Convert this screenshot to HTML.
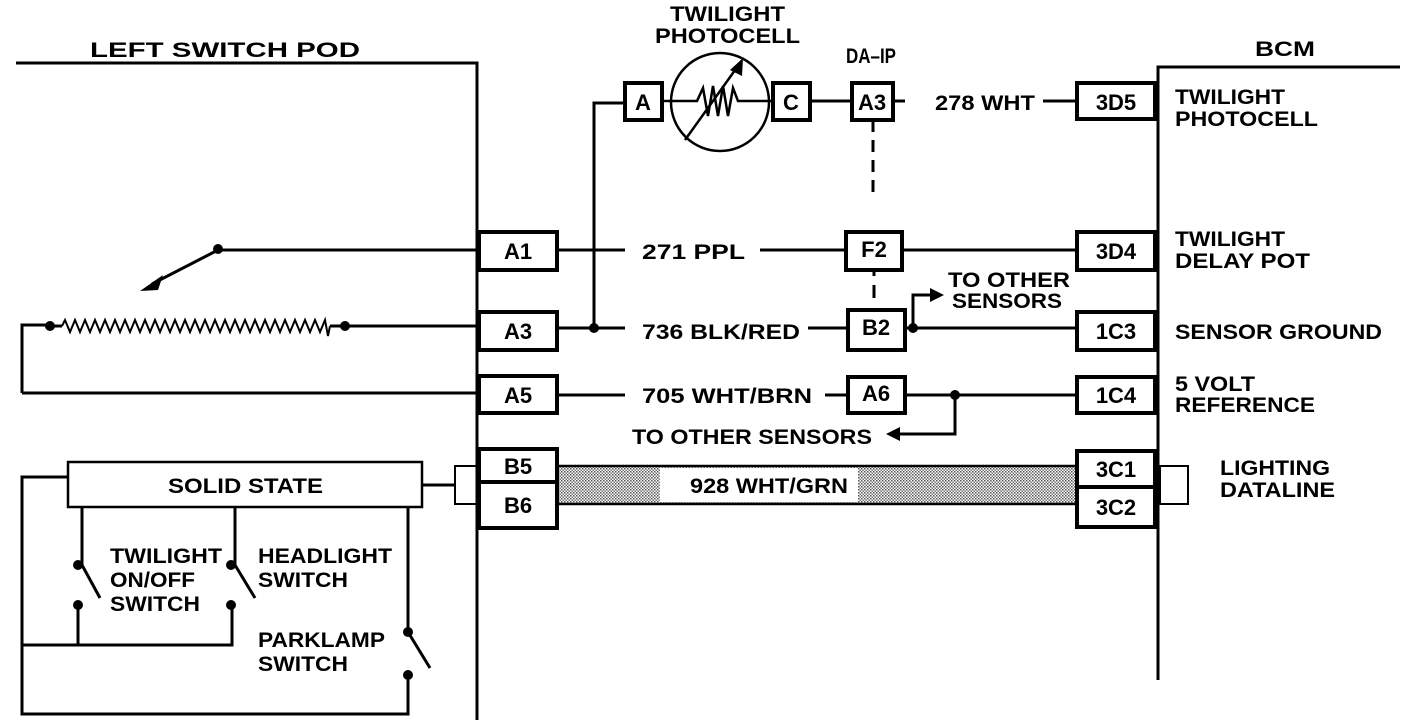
<!DOCTYPE html>
<html><head><meta charset="utf-8"><style>
html,body{margin:0;padding:0;background:#fff;}
svg{display:block;}
text{font-family:"Liberation Sans",sans-serif;font-weight:bold;fill:#000;}
</style></head><body>
<svg width="1408" height="728" viewBox="0 0 1408 728" xmlns="http://www.w3.org/2000/svg">
<defs>
<pattern id="dots" width="3" height="3" patternUnits="userSpaceOnUse">
<rect width="3" height="3" fill="#fff"/><rect width="1.5" height="1.5" fill="#555"/><rect x="1.5" y="1.5" width="1.5" height="1.5" fill="#777"/>
</pattern>
</defs>
<g stroke="#000" fill="none" stroke-width="3">
<polyline points="16,63 477,63 477,720"/>
<polyline points="1400,67 1158,67 1158,680"/>
<circle cx="720" cy="102" r="49" stroke-width="2.5"/>
<polyline points="662,101 697,101 703,88 708,116 713,86 718,116 723,86 728,116 733,88 738,101 773,101" stroke-width="2.5"/>
<line x1="685" y1="140" x2="738" y2="66" stroke-width="2.5"/>
<line x1="810" y1="101" x2="852" y2="101"/>
<line x1="893" y1="101" x2="905" y2="101"/>
<line x1="1043" y1="101" x2="1077" y2="101"/>
<line x1="873" y1="120" x2="873" y2="192" stroke-dasharray="12,8"/>
<polyline points="625,103 594,103 594,328"/>
<line x1="218" y1="250" x2="479" y2="250"/>
<line x1="218" y1="250" x2="152" y2="284"/>
<line x1="557" y1="250" x2="625" y2="250"/>
<line x1="760" y1="250" x2="846" y2="250"/>
<line x1="902" y1="250" x2="1077" y2="250"/>
<line x1="874" y1="270" x2="874" y2="276"/>
<line x1="874" y1="285" x2="874" y2="298"/>
<polyline points="22,393 22,325 50,325"/>
<line x1="50" y1="326" x2="62" y2="326"/>
<line x1="330" y1="326" x2="479" y2="326"/>
<line x1="557" y1="328" x2="625" y2="328"/>
<line x1="808" y1="328" x2="848" y2="328"/>
<line x1="905" y1="328" x2="1077" y2="328"/>
<polyline points="913,328 913,295 932,295"/>
<line x1="22" y1="393" x2="479" y2="393"/>
<line x1="557" y1="395" x2="625" y2="395"/>
<line x1="825" y1="395" x2="848" y2="395"/>
<line x1="905" y1="395" x2="1077" y2="395"/>
<polyline points="955,395 955,434 898,434"/>
<rect x="455" y="466" width="22" height="38" stroke-width="2"/>
<rect x="1160" y="466" width="28" height="38" stroke-width="2"/>
<rect x="68" y="462" width="354" height="45" stroke-width="2.5"/>
<line x1="422" y1="485" x2="455" y2="485"/>
<polyline points="68,477 22,477 22,714 408,714 408,675"/>
<line x1="82" y1="507" x2="82" y2="565"/>
<line x1="82" y1="565" x2="100" y2="598"/>
<polyline points="78,605 78,645 232,645 232,605"/>
<line x1="22" y1="645" x2="78" y2="645"/>
<line x1="235" y1="507" x2="235" y2="565"/>
<line x1="235" y1="565" x2="255" y2="598"/>
<line x1="408" y1="507" x2="408" y2="632"/>
<line x1="408" y1="632" x2="430" y2="668"/>
</g>
<rect x="557" y="466" width="520" height="38" fill="url(#dots)" stroke="#000" stroke-width="2.5"/>
<rect x="660" y="468" width="198" height="34" fill="#fff"/>
<polygon points="140,291 163,275 158,290" fill="#000"/>
<polygon points="930,288 944,295 930,302" fill="#000"/>
<polygon points="886,434 900,427 900,441" fill="#000"/>
<polygon points="743,58 742,76 730,70" fill="#000"/>
<g fill="#000">
<circle cx="218" cy="249" r="5"/>
<circle cx="50" cy="326" r="5"/><circle cx="345" cy="326" r="5"/>
<circle cx="594" cy="328" r="5"/><circle cx="913" cy="328" r="5"/>
<circle cx="955" cy="395" r="5"/>
<circle cx="78" cy="565" r="5"/><circle cx="78" cy="605" r="5"/>
<circle cx="231" cy="565" r="5"/><circle cx="231" cy="605" r="5"/>
<circle cx="408" cy="632" r="5"/><circle cx="408" cy="675" r="5"/>
</g>
<g stroke="#000" stroke-width="4" fill="#fff">
<rect x="625" y="83" width="37" height="37"/>
<rect x="773" y="83" width="37" height="37"/>
<rect x="852" y="83" width="41" height="37"/>
<rect x="1077" y="83" width="78" height="36"/>
<rect x="479" y="232" width="78" height="38"/>
<rect x="846" y="232" width="56" height="38"/>
<rect x="1077" y="232" width="78" height="38"/>
<rect x="479" y="312" width="78" height="38"/>
<rect x="848" y="310" width="57" height="40"/>
<rect x="1077" y="312" width="78" height="38"/>
<rect x="479" y="376" width="78" height="37"/>
<rect x="848" y="377" width="57" height="36"/>
<rect x="1077" y="377" width="78" height="36"/>
<rect x="479" y="449" width="78" height="33"/>
<rect x="479" y="482" width="78" height="46"/>
<rect x="1077" y="451" width="78" height="36"/>
<rect x="1077" y="487" width="78" height="40"/>
</g>
<g font-size="22" text-anchor="middle">
<text x="643" y="110">A</text><text x="791" y="110">C</text>
<text x="872" y="110">A3</text><text x="1116" y="110">3D5</text>
<text x="518" y="259">A1</text><text x="874" y="257">F2</text><text x="1116" y="259">3D4</text>
<text x="518" y="339">A3</text><text x="876" y="335">B2</text><text x="1116" y="339">1C3</text>
<text x="518" y="403">A5</text><text x="876" y="401">A6</text><text x="1116" y="403">1C4</text>
<text x="518" y="474">B5</text><text x="518" y="513">B6</text>
<text x="1116" y="477">3C1</text><text x="1116" y="515">3C2</text>
</g>
<g font-size="21" lengthAdjust="spacingAndGlyphs">
<text x="90" y="57" textLength="270" lengthAdjust="spacingAndGlyphs">LEFT SWITCH POD</text>
<text x="1255" y="56" textLength="60" lengthAdjust="spacingAndGlyphs">BCM</text>
<text x="670" y="21" textLength="115" lengthAdjust="spacingAndGlyphs">TWILIGHT</text>
<text x="655" y="43" textLength="145" lengthAdjust="spacingAndGlyphs">PHOTOCELL</text>
<text x="846" y="63" font-weight="normal" textLength="50" lengthAdjust="spacingAndGlyphs">DA–IP</text>
<text x="935" y="110" textLength="100" lengthAdjust="spacingAndGlyphs">278 WHT</text>
<text x="642" y="259" textLength="103" lengthAdjust="spacingAndGlyphs">271 PPL</text>
<text x="642" y="339" textLength="158" lengthAdjust="spacingAndGlyphs">736 BLK/RED</text>
<text x="642" y="403" textLength="170" lengthAdjust="spacingAndGlyphs">705 WHT/BRN</text>
<text x="632" y="444" textLength="240" lengthAdjust="spacingAndGlyphs">TO OTHER SENSORS</text>
<text x="948" y="287" textLength="122" lengthAdjust="spacingAndGlyphs">TO OTHER</text>
<text x="952" y="308" textLength="110" lengthAdjust="spacingAndGlyphs">SENSORS</text>
<text x="690" y="493" textLength="158" lengthAdjust="spacingAndGlyphs">928 WHT/GRN</text>
<text x="1175" y="104" textLength="110" lengthAdjust="spacingAndGlyphs">TWILIGHT</text>
<text x="1175" y="126" textLength="143" lengthAdjust="spacingAndGlyphs">PHOTOCELL</text>
<text x="1175" y="246" textLength="110" lengthAdjust="spacingAndGlyphs">TWILIGHT</text>
<text x="1175" y="268" textLength="135" lengthAdjust="spacingAndGlyphs">DELAY POT</text>
<text x="1175" y="339" textLength="207" lengthAdjust="spacingAndGlyphs">SENSOR GROUND</text>
<text x="1175" y="391" textLength="80" lengthAdjust="spacingAndGlyphs">5 VOLT</text>
<text x="1175" y="412" textLength="140" lengthAdjust="spacingAndGlyphs">REFERENCE</text>
<text x="1220" y="475" textLength="110" lengthAdjust="spacingAndGlyphs">LIGHTING</text>
<text x="1220" y="497" textLength="115" lengthAdjust="spacingAndGlyphs">DATALINE</text>
<text x="168" y="493" textLength="155" lengthAdjust="spacingAndGlyphs">SOLID STATE</text>
<text x="110" y="563" textLength="112" lengthAdjust="spacingAndGlyphs">TWILIGHT</text>
<text x="110" y="587" textLength="85" lengthAdjust="spacingAndGlyphs">ON/OFF</text>
<text x="110" y="611" textLength="90" lengthAdjust="spacingAndGlyphs">SWITCH</text>
<text x="258" y="563" textLength="134" lengthAdjust="spacingAndGlyphs">HEADLIGHT</text>
<text x="258" y="587" textLength="90" lengthAdjust="spacingAndGlyphs">SWITCH</text>
<text x="258" y="647" textLength="127" lengthAdjust="spacingAndGlyphs">PARKLAMP</text>
<text x="258" y="671" textLength="90" lengthAdjust="spacingAndGlyphs">SWITCH</text>
</g>
<polyline stroke="#000" stroke-width="2" fill="none" points="62,326 65,320 70,332 75,320 80,332 85,320 90,332 95,320 100,332 105,320 110,332 115,320 120,332 125,320 130,332 135,320 140,332 145,320 150,332 155,320 160,332 165,320 170,332 175,320 180,332 185,320 190,332 195,320 200,332 205,320 210,332 215,320 220,332 225,320 230,332 235,320 240,332 245,320 250,332 255,320 260,332 265,320 270,332 275,320 280,332 285,320 290,332 295,320 300,332 305,320 310,332 315,320 320,332 325,320 328,336 330,326"/>
</svg>
</body></html>
